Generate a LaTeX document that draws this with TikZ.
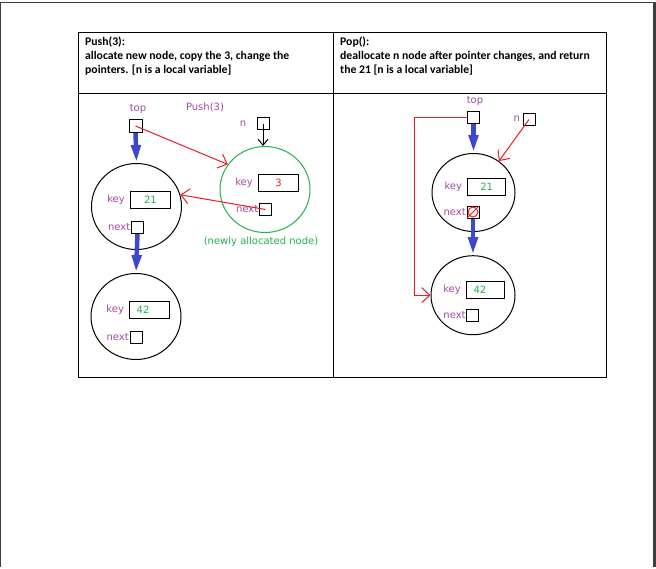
\documentclass[tikz,border=0pt]{standalone}
\usepackage{fontspec}
\setmainfont{Carlito}
\newfontfamily\handfont{DejaVu Sans}
\usetikzlibrary{arrows.meta, positioning, shapes.geometric}

\begin{document}
\begin{tikzpicture}[x=1pt, y=-1pt]
  \definecolor{framecol}{HTML}{3C4043}
  \definecolor{lblcol}{HTML}{A349A4}
  \definecolor{keycol}{HTML}{22B14C}
  \definecolor{ptrcol}{HTML}{ED1C24}
  \definecolor{linkcol}{HTML}{3F48CC}

  \tikzset{
    hdr/.style={
      anchor=north west, inner sep=0pt,
      align=left,
      font=\fontsize{11.7}{14}\selectfont\bfseries
    },
    lbl/.style={
      inner sep=0pt, text=lblcol,
      font=\handfont\fontsize{10}{11}\selectfont
    },
    ptr/.style={
      draw, line width=1pt,
      minimum size=12pt, inner sep=0pt
    },
    keybox/.style={
      draw, line width=1pt,
      minimum width=40pt, minimum height=17pt, inner sep=0pt,
      font=\handfont\fontsize{10}{11}\selectfont, text=keycol
    },
    lnode/.style={
      ellipse, draw=#1, line width=1pt,
      minimum width=90pt, minimum height=86pt
    },
    lnode/.default=black,
    link/.style={
      -{Triangle[length=18pt, width=9pt]},
      line width=4.5pt, color=linkcol
    },
    rarr/.style={
      -{Straight Barb[length=8pt, width=15pt]},
      line width=1pt, color=ptrcol
    },
    narr/.style={
      -{Straight Barb[length=6pt, width=10pt]},
      line width=1pt, color=black
    }
  }

  % page and table
  \fill[white] (0,0) rectangle (656,565);
  \draw[framecol, line width=1pt] (0.5,565) -- (0.5,0.5) -- (654,0.5);
  \draw[framecol, line width=3pt] (654.5,0) -- (654.5,565);
  \useasboundingbox (0,0) rectangle (656,565);

  \draw[line width=1pt] (78,31) rectangle (606,376);
  \draw[line width=1pt] (333,31) -- (333,376);
  \draw[line width=1pt] (78,92) -- (606,92);

  \node[hdr] (hpush) at (85,35) {Push(3):\\allocate new node, copy the 3, change the\\pointers. [n is a local variable]};
  \node[hdr] (hpop) at (340,35) {Pop():\\deallocate n node after pointer changes, and return\\the 21 [n is a local variable]};

  % Push(3)
  \node[lbl] (toplblL) at (138,108) {top};
  \node[lbl] (pushlbl) at (205,106) {Push(3)};
  \node[ptr, minimum size=13pt] (topL) at (135.5,124.5) {};

  \node[lnode] (o21L) at (136.5,205) {};
  \node[keybox] (k21L) at (150.5,198.5) {21};
  \node[lbl, left=5pt of k21L] {key};
  \node[ptr] (n21L) at (137.5,226) {};
  \node[lbl, left=0.5pt of n21L] {next};

  \node[lnode] (o42L) at (136,315) {};
  \node[keybox, text width=26pt, align=left] (k42L) at (149.7,308.5) {42};
  \node[lbl, left=5pt of k42L] {key};
  \node[ptr] (n42L) at (136,336) {};
  \node[lbl, left=0.5pt of n42L] {next};

  \node[lbl] (nlblL) at (243,122) {n};
  \node[ptr] (nL) at (263,122) {};
  \node[lnode=keycol] (o3L) at (265,188) {};
  \node[keybox, text=ptrcol] (k3L) at (278.5,181) {3};
  \node[lbl, left=5pt of k3L] {key};
  \node[ptr] (n3L) at (265.5,208) {};
  \node[lbl, left=0.5pt of n3L] {next};
  \node[lbl, text=keycol] (newlbl) at (261,240) {(newly allocated node)};

  \draw[link] (topL.south) -- (o21L.north);
  \draw[link] (n21L.south) -- (o42L.north);
  \draw[narr] (nL.center) -- (nL.center |- o3L.north);
  \draw[rarr] (topL.center) -- (o3L.146);
  \draw[rarr] (n3L.center) -- (o21L.15);

  % Pop()
  \node[lbl] (toplblR) at (475,100) {top};
  \node[ptr] (topR) at (473.5,116) {};
  \node[lbl] (nlblR) at (516.7,116.7) {n};
  \node[ptr] (nR) at (529,118) {};

  \node[lnode, minimum width=83pt, minimum height=78pt] (o21R) at (473.5,191) {};
  \node[keybox, minimum width=38pt] (k21R) at (486.7,185.3) {21};
  \node[lbl, left=5pt of k21R] {key};
  \node[ptr] (n21R) at (473,210.5) {};
  \node[lbl, left=0.5pt of n21R] {next};

  \node[lnode, minimum width=84pt, minimum height=79pt] (o42R) at (473,293.7) {};
  \node[keybox, minimum width=38pt, text width=24pt, align=left] (k42R) at (485.5,288) {42};
  \node[lbl, left=5pt of k42R] {key};
  \node[ptr] (n42R) at (472.8,313.7) {};
  \node[lbl, left=0.5pt of n42R] {next};

  \draw[link] (topR.south) -- (o21R.north);
  \draw[link] (n21R.south) -- (o42R.north);

  \coordinate (bendR) at (414,116);
  \draw[rarr] (topR.west) -- (bendR) |- (o42R.west);
  \draw[rarr] (nR.center) -- (o21R.51);
  \draw[ptrcol, line width=1pt] (n21R.center) circle (5pt);
  \draw[ptrcol, line width=1pt] (n21R.center) ++(-6,6) -- ++(12,-12);
\end{tikzpicture}
\end{document}
